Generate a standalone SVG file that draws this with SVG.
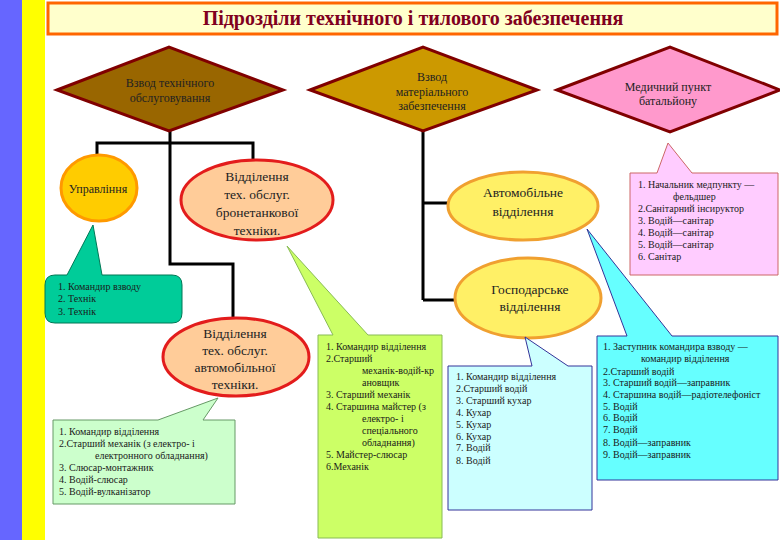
<svg xmlns="http://www.w3.org/2000/svg" width="780" height="540" viewBox="0 0 780 540">
<defs>
<style>
.dia{stroke:#800000;stroke-width:3;stroke-linejoin:miter}
.dt{font-family:"Liberation Serif","DejaVu Serif",serif;font-size:12px;fill:#222;text-anchor:middle}
.et{font-family:"Liberation Serif","DejaVu Serif",serif;font-size:13.5px;fill:#222;text-anchor:middle}
.ct{font-family:"Liberation Serif","DejaVu Serif",serif;font-size:10px;fill:#1a1a1a}
.con{fill:none;stroke:#000;stroke-width:3;stroke-linejoin:miter}
.call{stroke-width:1}
</style>
</defs>
<rect x="0" y="0" width="780" height="540" fill="#fff"/>
<rect x="0" y="0" width="22" height="540" fill="#6666FF"/>
<rect x="22" y="0" width="23" height="540" fill="#FFFF00"/>
<g id="title">
<rect x="48" y="3" width="729" height="31" fill="#FFFFCC" stroke="#FF6600" stroke-width="3"/>
<text x="413" y="25" font-family="Liberation Serif, serif" font-size="20" font-weight="bold" fill="#800020" text-anchor="middle">Підрозділи технічного  і тилового забезпечення</text>
</g>
<g id="connectors">
<path class="con" d="M170,130 V143 M97,157 V143 H253 V161 M170,143 V264 H233 V318"/>
<path class="con" d="M423,130 V300 M423,203 H449 M423,300 H456"/>
</g>
<g id="d1">
<polygon class="dia" points="57,90 169,47 283,90 169,131" fill="#996600"/>
<text class="dt" x="170" y="87">Взвод технічного</text>
<text class="dt" x="170" y="102">обслуговування</text>
</g>
<g id="d2">
<polygon class="dia" points="310,90 423,47 537,90 423,131" fill="#CC9900"/>
<text class="dt" x="432" y="81">Взвод</text>
<text class="dt" x="432" y="96">матеріального</text>
<text class="dt" x="432" y="110">забезпечення</text>
</g>
<g id="d3">
<polygon class="dia" points="557,90 670,47 780,90 670,132" fill="#FF99CC"/>
<text class="dt" x="668" y="91">Медичний пункт</text>
<text class="dt" x="668" y="105">батальйону</text>
</g>
<g id="upr">
<ellipse cx="99" cy="188" rx="38" ry="33" fill="#FFCC00" stroke="#FF9900" stroke-width="3"/>
<text x="98" y="193" font-family="Liberation Serif, serif" font-size="12" fill="#222" text-anchor="middle">Управління</text>
</g>
<g id="bron">
<ellipse cx="257" cy="200" rx="76" ry="40" fill="#FFCC99" stroke="#E31C1C" stroke-width="3"/>
<text class="et" x="257" y="181">Відділення</text>
<text class="et" x="257" y="199">тех. обслуг.</text>
<text class="et" x="257" y="217">бронетанкової</text>
<text class="et" x="257" y="235">техніки.</text>
</g>
<g id="auto">
<ellipse cx="236" cy="357" rx="73" ry="39" fill="#FFCC99" stroke="#E31C1C" stroke-width="3"/>
<text class="et" x="235" y="338">Відділення</text>
<text class="et" x="235" y="355">тех. обслуг.</text>
<text class="et" x="235" y="372">автомобільної</text>
<text class="et" x="235" y="389">техніки.</text>
</g>
<g id="avtviddil">
<ellipse cx="523" cy="206" rx="75" ry="34" fill="#FFF066" stroke="#F0A030" stroke-width="3"/>
<text class="et" x="523" y="197">Автомобільне</text>
<text class="et" x="523" y="216">відділення</text>
</g>
<g id="gosp">
<ellipse cx="528" cy="298" rx="73" ry="40" fill="#FFF066" stroke="#F0A030" stroke-width="3"/>
<text class="et" x="530" y="294">Господарське</text>
<text class="et" x="530" y="311">відділення</text>
</g>
<g id="c-upr">
<path class="call" d="M55,275 L67,275 L93,225 L102,275 L172,275 Q182,275 182,285 L182,313 Q182,323 172,323 L55,323 Q45,323 45,313 L45,285 Q45,275 55,275 Z" fill="#00CC99" stroke="#007755"/>
<text class="ct" x="58" y="290" font-size="9.5">1.  Командир взводу</text>
<text class="ct" x="58" y="302" font-size="9.5">2. Технік</text>
<text class="ct" x="58" y="315" font-size="9.5">3. Технік</text>
</g>
<g id="c-auto">
<path class="call" d="M53,420 L158,420 L218,398 L203,420 L235,420 L235,504 L53,504 Z" fill="#CCFFCC" stroke="#669966"/>
<text class="ct" x="59" y="435">1. Командир відділення</text>
<text class="ct" x="59" y="447">2.Старший  механік (з електро- і</text>
<text class="ct" x="95" y="459">електронного обладнання)</text>
<text class="ct" x="59" y="471">3. Слюсар-монтажник</text>
<text class="ct" x="59" y="483">4. Водій-слюсар</text>
<text class="ct" x="59" y="495">5. Водій-вулканізатор</text>
</g>
<g id="c-bron">
<path class="call" d="M318,335 L333,335 L287,246 L368,335 L442,335 L442,538 L318,538 Z" fill="#CCFF66" stroke="#88BB55"/>
<text class="ct" x="326" y="350">1. Командир відділення</text>
<text class="ct" x="326" y="362">2.Старший</text>
<text class="ct" x="362" y="374">механік-водій-кр</text>
<text class="ct" x="362" y="386">ановщик</text>
<text class="ct" x="326" y="398">3. Старший механік</text>
<text class="ct" x="326" y="410">4. Старшина майстер (з</text>
<text class="ct" x="362" y="422">електро- і</text>
<text class="ct" x="362" y="434">спеціального</text>
<text class="ct" x="362" y="446">обладнання)</text>
<text class="ct" x="326" y="458">5. Майстер-слюсар</text>
<text class="ct" x="326" y="470">6.Механік</text>
</g>
<g id="c-gosp">
<path class="call" d="M448,366 L532,366 L525,337 L568,366 L592,366 L592,510 L448,510 Z" fill="#CCFFFF" stroke="#333399"/>
<text class="ct" x="456" y="380">1. Командир відділення</text>
<text class="ct" x="456" y="392">2.Старший  водій</text>
<text class="ct" x="456" y="404">3. Старший кухар</text>
<text class="ct" x="456" y="416">4. Кухар</text>
<text class="ct" x="456" y="428">5. Кухар</text>
<text class="ct" x="456" y="440">6. Кухар</text>
<text class="ct" x="456" y="451">7. Водій</text>
<text class="ct" x="456" y="464">8. Водій</text>
</g>
<g id="c-avt">
<path class="call" d="M597,336 L627,336 L587,229 L672,336 L778,336 L778,480 L597,480 Z" fill="#66FFFF" stroke="#333399"/>
<text class="ct" x="603" y="350">1. Заступник командира взводу —</text>
<text class="ct" x="641" y="362">командир відділення</text>
<text class="ct" x="603" y="375">2.Старший  водій</text>
<text class="ct" x="603" y="386">3. Старший водій—заправник</text>
<text class="ct" x="603" y="398">4. Старшина водій—радіотелефоніст</text>
<text class="ct" x="603" y="410">5. Водій</text>
<text class="ct" x="603" y="421">6. Водій</text>
<text class="ct" x="603" y="433">7. Водій</text>
<text class="ct" x="603" y="446">8. Водій—заправник</text>
<text class="ct" x="603" y="458">9. Водій—заправник</text>
</g>
<g id="c-med">
<path class="call" d="M630,173 L657,173 L668,143 L692,173 L778,173 L778,275 L630,275 Z" fill="#FFCCFF" stroke="#CC6666"/>
<text class="ct" x="638" y="188">1. Начальник медпункту —</text>
<text class="ct" x="673" y="200">фельдшер</text>
<text class="ct" x="638" y="212">2.Санітарний інсируктор</text>
<text class="ct" x="638" y="224">3. Водій—санітар</text>
<text class="ct" x="638" y="236">4. Водій—санітар</text>
<text class="ct" x="638" y="248">5. Водій—санітар</text>
<text class="ct" x="638" y="260">6. Санітар</text>
</g>
</svg>
